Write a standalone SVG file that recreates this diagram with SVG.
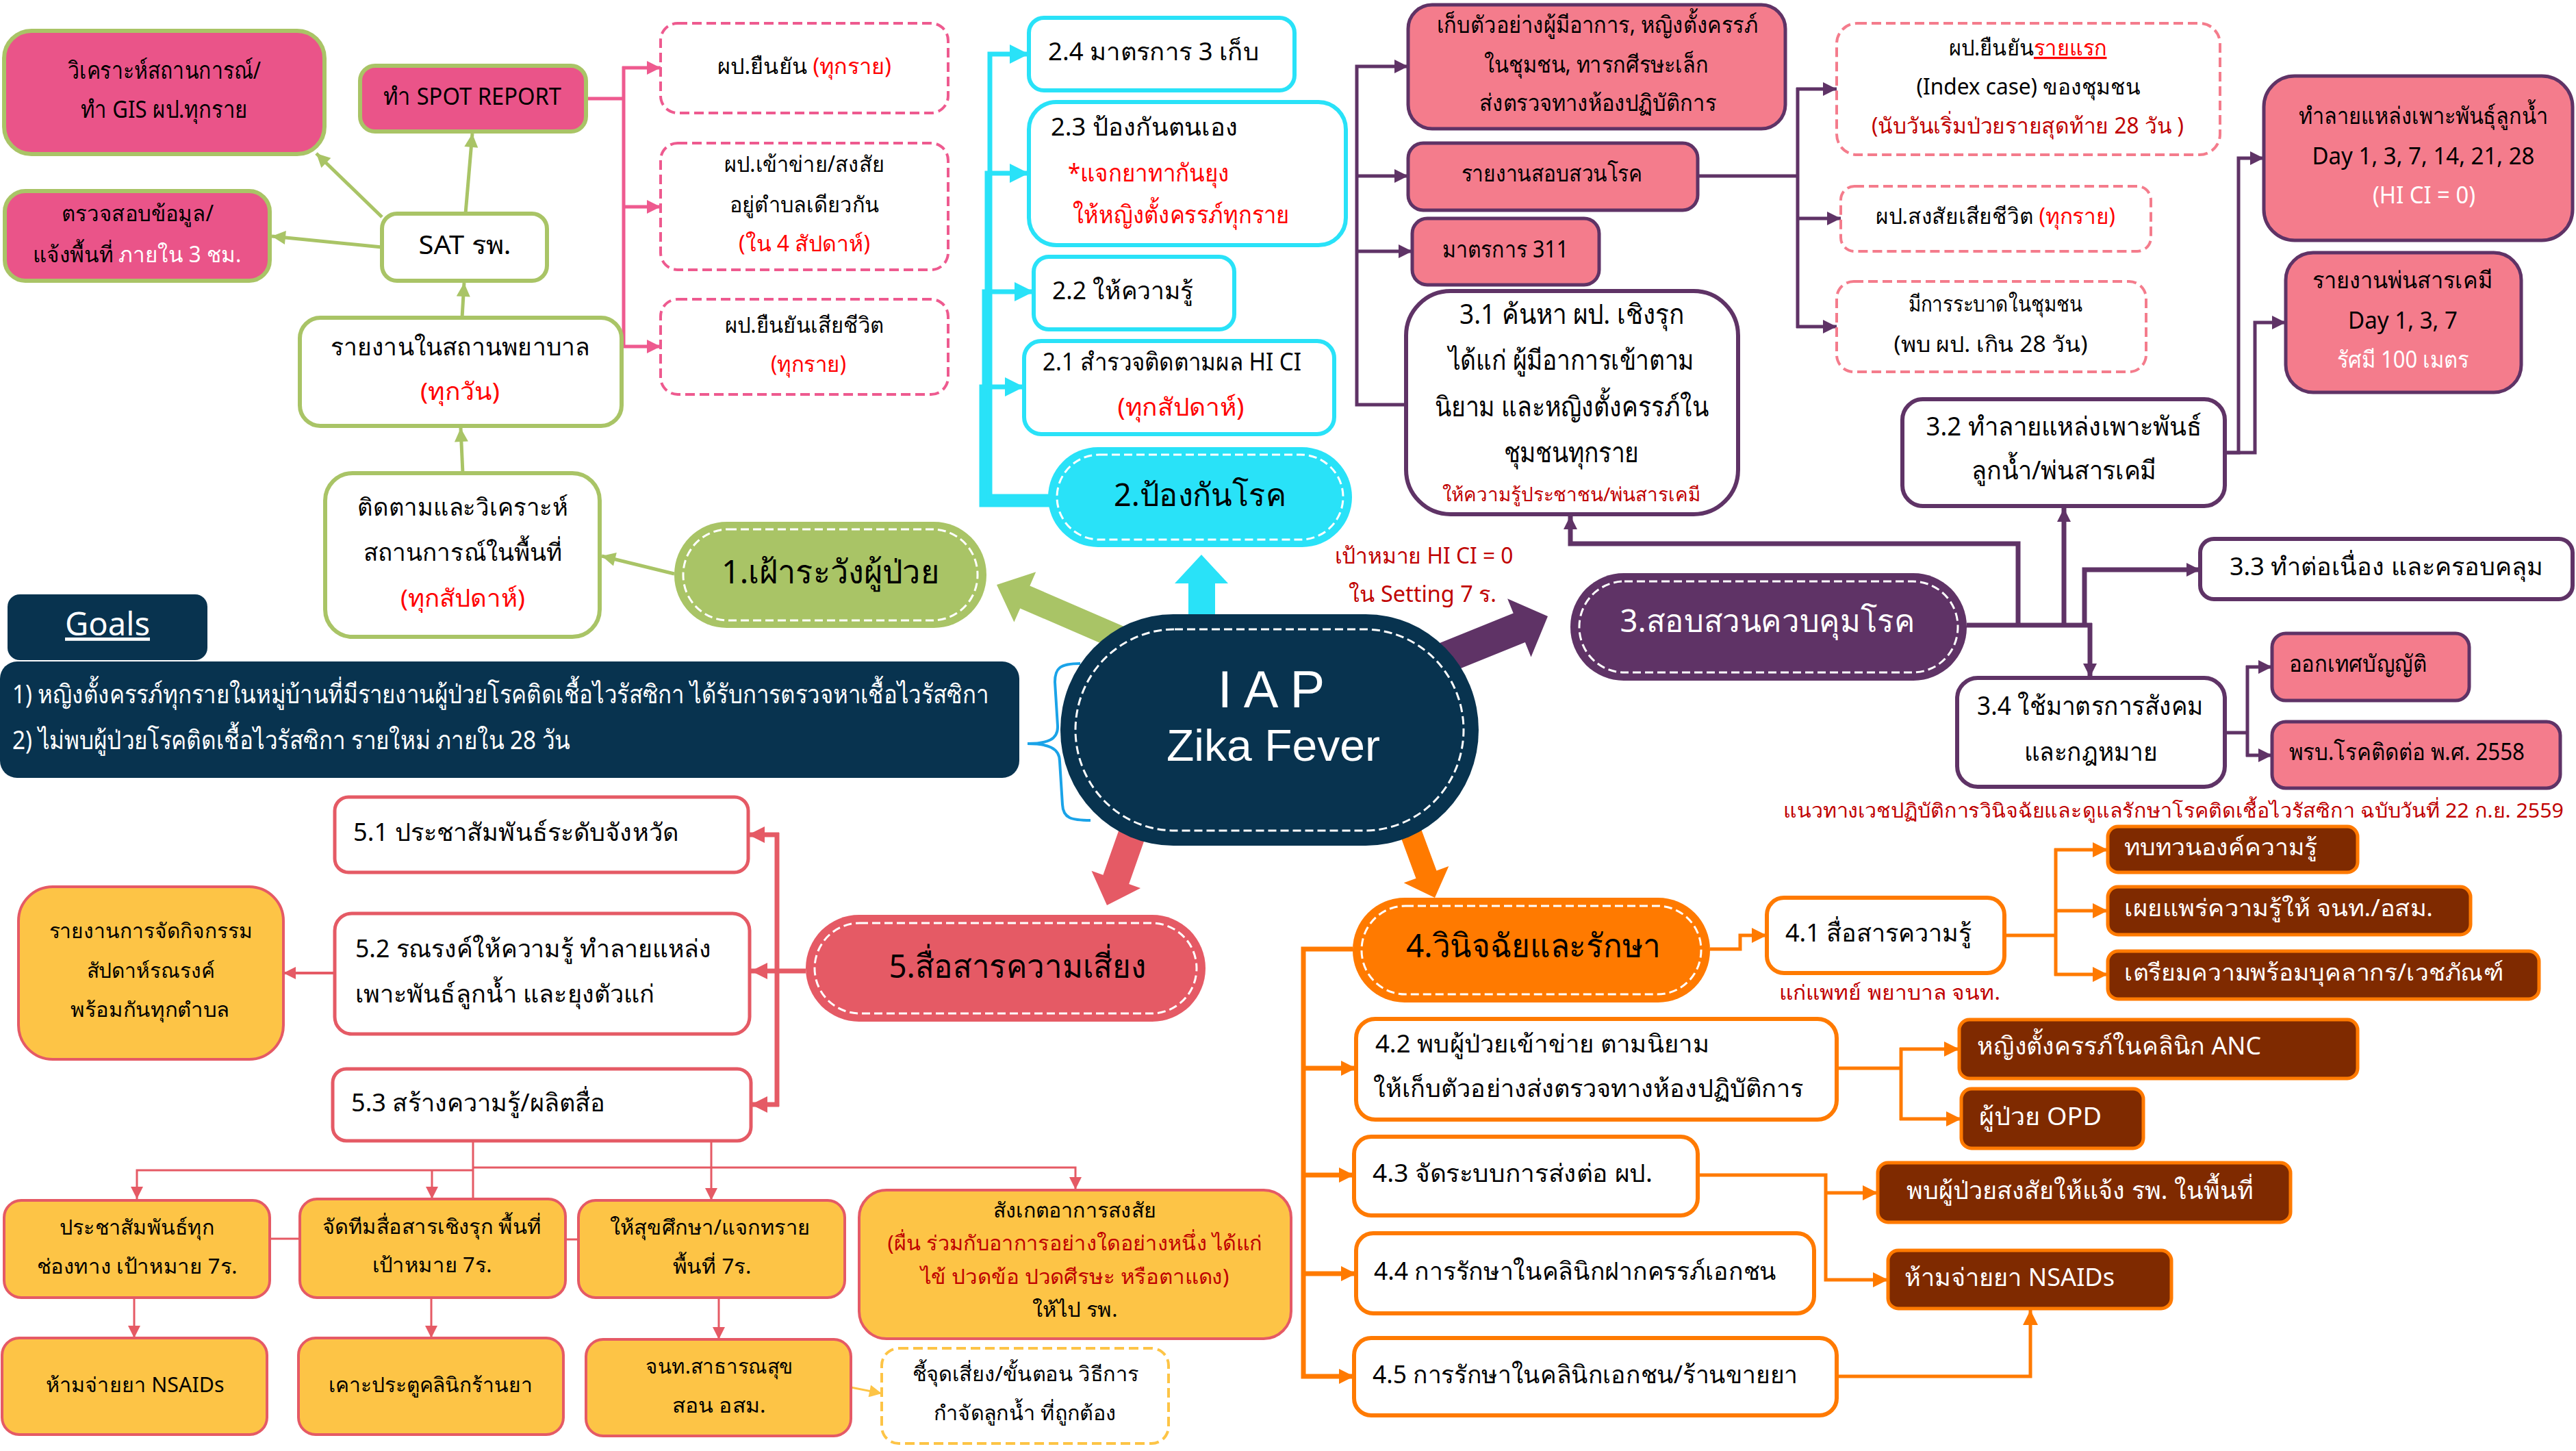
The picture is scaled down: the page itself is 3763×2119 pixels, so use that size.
<svg xmlns="http://www.w3.org/2000/svg" width="3763" height="2119" viewBox="0 0 3763 2119">
<style>
text{font-family:'Noto Sans','DejaVu Sans',sans-serif;font-size:35px;fill:#000}
.c{text-anchor:middle}
.r{fill:#FF0000}
.dr{fill:#C00000}
.w{fill:#FFFFFF}
.gbox{stroke:#A9C466;stroke-width:6}
.pk{fill:#EA5489}
.wh{fill:#FFFFFF}
.dpk{fill:#FFFFFF;stroke:#EE5A8F;stroke-width:4;stroke-dasharray:14 7}
.cy{fill:#FFFFFF;stroke:#29E2F8;stroke-width:6}
.sal{fill:#F47C8C;stroke:#5F3366;stroke-width:5}
.pw{fill:#FFFFFF;stroke:#5F3366;stroke-width:6}
.dsal{fill:#FFFFFF;stroke:#F47C8C;stroke-width:4;stroke-dasharray:14 7}
.ow{fill:#FFFFFF;stroke:#FF7A00;stroke-width:6}
.br{fill:#7F2A00;stroke:#FF7A00;stroke-width:5}
.rw{fill:#FFFFFF;stroke:#E55A65;stroke-width:5}
.yl{fill:#FDC446;stroke:#E55A65;stroke-width:4}
.inner{fill:none;stroke:#FFFFFF;stroke-width:3;stroke-dasharray:12 6}
.cn{fill:none}
.lg{stroke:#A9C466;stroke-width:5}
.lp{stroke:#EE5A8F;stroke-width:5}
.lc{stroke:#29E2F8;stroke-width:7}
.lu{stroke:#5F3366;stroke-width:5}
.lu2{stroke:#5F3366;stroke-width:7}
.lo{stroke:#FF7A00;stroke-width:5}
.lo2{stroke:#FF7A00;stroke-width:7}
.lr{stroke:#E55A65;stroke-width:7}
.lr1{stroke:#E55A65;stroke-width:4}
.lr0{stroke:#E55A65;stroke-width:3}
.ly{stroke:#FDC446;stroke-width:3}
</style>
<defs>
<marker id="ag" viewBox="0 0 10 10" refX="10" refY="5" markerWidth="22" markerHeight="20" markerUnits="userSpaceOnUse" orient="auto"><path d="M0,0L10,5L0,10z" fill="#A9C466"/></marker>
<marker id="ap" viewBox="0 0 10 10" refX="10" refY="5" markerWidth="22" markerHeight="20" markerUnits="userSpaceOnUse" orient="auto"><path d="M0,0L10,5L0,10z" fill="#EE5A8F"/></marker>
<marker id="ac" viewBox="0 0 10 10" refX="10" refY="5" markerWidth="28" markerHeight="28" markerUnits="userSpaceOnUse" orient="auto"><path d="M0,0L10,5L0,10z" fill="#29E2F8"/></marker>
<marker id="au" viewBox="0 0 10 10" refX="10" refY="5" markerWidth="22" markerHeight="20" markerUnits="userSpaceOnUse" orient="auto"><path d="M0,0L10,5L0,10z" fill="#5F3366"/></marker>
<marker id="ao" viewBox="0 0 10 10" refX="10" refY="5" markerWidth="24" markerHeight="22" markerUnits="userSpaceOnUse" orient="auto"><path d="M0,0L10,5L0,10z" fill="#FF7A00"/></marker>
<marker id="ar" viewBox="0 0 10 10" refX="10" refY="5" markerWidth="26" markerHeight="24" markerUnits="userSpaceOnUse" orient="auto"><path d="M0,0L10,5L0,10z" fill="#E55A65"/></marker>
<marker id="ars" viewBox="0 0 10 10" refX="10" refY="5" markerWidth="20" markerHeight="18" markerUnits="userSpaceOnUse" orient="auto"><path d="M0,0L10,5L0,10z" fill="#E55A65"/></marker>
<marker id="ay" viewBox="0 0 10 10" refX="10" refY="5" markerWidth="20" markerHeight="18" markerUnits="userSpaceOnUse" orient="auto"><path d="M0,0L10,5L0,10z" fill="#FDC446"/></marker>
</defs>
<rect width="3763" height="2119" fill="#FFFFFF"/>

<g id="connectors" class="cn">
<line class="lg" x1="675" y1="464" x2="678" y2="413" marker-end="url(#ag)"/>
<line class="lg" x1="680" y1="312" x2="690" y2="195" marker-end="url(#ag)"/>
<line class="lg" x1="558" y1="317" x2="462" y2="224" marker-end="url(#ag)"/>
<line class="lg" x1="558" y1="361" x2="397" y2="345" marker-end="url(#ag)"/>
<line class="lg" x1="676" y1="691" x2="673" y2="625" marker-end="url(#ag)"/>
<line class="lg" x1="985" y1="838" x2="879" y2="812" marker-end="url(#ag)"/>
<polyline class="lp" points="856,144 911,144"/>
<line class="lp" x1="911" y1="97" x2="911" y2="506"/>
<line class="lp" x1="909" y1="99" x2="965" y2="99" marker-end="url(#ap)"/>
<line class="lp" x1="911" y1="302" x2="965" y2="302" marker-end="url(#ap)"/>
<line class="lp" x1="909" y1="506" x2="965" y2="506" marker-end="url(#ap)"/>
<polyline class="lc" points="1533,725 1446,725 1446,79 1503,79" marker-end="url(#ac)"/>
<polyline class="lc" points="1533,729 1442,729 1442,253 1503,253" marker-end="url(#ac)"/>
<polyline class="lc" points="1533,733 1438,733 1438,426 1510,426" marker-end="url(#ac)"/>
<polyline class="lc" points="1533,737 1434,737 1434,565 1496,565" marker-end="url(#ac)"/>
<polyline class="lu" points="2054,591 1982,591 1982,97 2057,97" marker-end="url(#au)"/>
<line class="lu" x1="1982" y1="257" x2="2057" y2="257" marker-end="url(#au)"/>
<line class="lu" x1="1982" y1="367" x2="2063" y2="367" marker-end="url(#au)"/>
<polyline class="lu" points="2480,257 2626,257"/>
<line class="lu" x1="2626" y1="128" x2="2626" y2="479"/>
<line class="lu" x1="2624" y1="130" x2="2683" y2="130" marker-end="url(#au)"/>
<line class="lu" x1="2626" y1="319" x2="2689" y2="319" marker-end="url(#au)"/>
<line class="lu" x1="2624" y1="477" x2="2683" y2="477" marker-end="url(#au)"/>
<polyline class="lu" points="3250,661 3270,661 3270,231 3307,231" marker-end="url(#au)"/>
<polyline class="lu" points="3250,661 3294,661 3294,471 3339,471" marker-end="url(#au)"/>
<polyline class="lu2" points="2873,913 3056,913"/>
<polyline class="lu2" points="2948,913 2948,794 2294,794 2294,753" marker-end="url(#au)"/>
<line class="lu2" x1="3015" y1="913" x2="3015" y2="742" marker-end="url(#au)"/>
<polyline class="lu2" points="3045,913 3045,832 3214,832" marker-end="url(#au)"/>
<line class="lu2" x1="3053" y1="910" x2="3053" y2="989" marker-end="url(#au)"/>
<polyline class="lu" points="3250,1070 3283,1070"/>
<line class="lu" x1="3283" y1="972" x2="3283" y2="1105"/>
<line class="lu" x1="3281" y1="974" x2="3319" y2="974" marker-end="url(#au)"/>
<line class="lu" x1="3281" y1="1103" x2="3319" y2="1103" marker-end="url(#au)"/>
<polyline class="lo" points="2498,1386 2542,1386 2542,1366 2581,1366" marker-end="url(#ao)"/>
<polyline class="lo" points="2928,1366 3003,1366"/>
<line class="lo" x1="3003" y1="1239" x2="3003" y2="1425"/>
<line class="lo" x1="3001" y1="1241" x2="3079" y2="1241" marker-end="url(#ao)"/>
<line class="lo" x1="3003" y1="1330" x2="3079" y2="1330" marker-end="url(#ao)"/>
<line class="lo" x1="3001" y1="1423" x2="3079" y2="1423" marker-end="url(#ao)"/>
<polyline class="lo2" points="1976,1386 1904,1386 1904,2010 1978,2010" marker-end="url(#ao)"/>
<line class="lo2" x1="1904" y1="1560" x2="1981" y2="1560" marker-end="url(#ao)"/>
<line class="lo2" x1="1904" y1="1716" x2="1978" y2="1716" marker-end="url(#ao)"/>
<line class="lo2" x1="1904" y1="1860" x2="1981" y2="1860" marker-end="url(#ao)"/>
<polyline class="lo" points="2683,1560 2777,1560"/>
<line class="lo" x1="2777" y1="1530" x2="2777" y2="1636"/>
<line class="lo" x1="2775" y1="1532" x2="2862" y2="1532" marker-end="url(#ao)"/>
<line class="lo" x1="2775" y1="1634" x2="2865" y2="1634" marker-end="url(#ao)"/>
<polyline class="lo" points="2480,1716 2667,1716 2667,1869 2758,1869" marker-end="url(#ao)"/>
<line class="lo" x1="2667" y1="1742" x2="2743" y2="1742" marker-end="url(#ao)"/>
<polyline class="lo" points="2683,2010 2966,2010 2966,1913" marker-end="url(#ao)"/>
<line class="lr" x1="1177" y1="1418" x2="1097" y2="1418" marker-end="url(#ar)"/>
<line class="lr" x1="1135" y1="1216" x2="1135" y2="1616"/>
<line class="lr" x1="1138" y1="1219" x2="1093" y2="1219" marker-end="url(#ar)"/>
<line class="lr" x1="1138" y1="1613" x2="1097" y2="1613" marker-end="url(#ar)"/>
<line class="lr1" x1="489" y1="1421" x2="414" y2="1421" marker-end="url(#ars)"/>
<line class="lr0" x1="691" y1="1666" x2="691" y2="1751"/>
<polyline class="lr0" points="691,1709 200,1709 200,1751" marker-end="url(#ars)"/>
<line class="lr0" x1="631" y1="1709" x2="631" y2="1751" marker-end="url(#ars)"/>
<polyline class="lr0" points="691,1705 1571,1705 1571,1737" marker-end="url(#ars)"/>
<line class="lr0" x1="1039" y1="1666" x2="1039" y2="1753" marker-end="url(#ars)"/>
<line class="lr0" x1="394" y1="1809" x2="438" y2="1809"/>
<line class="lr0" x1="826" y1="1810" x2="845" y2="1810"/>
<line class="lr0" x1="196" y1="1895" x2="196" y2="1954" marker-end="url(#ars)"/>
<line class="lr0" x1="630" y1="1895" x2="630" y2="1954" marker-end="url(#ars)"/>
<line class="lr0" x1="1050" y1="1895" x2="1050" y2="1956" marker-end="url(#ars)"/>
<line class="ly" x1="1243" y1="2026" x2="1288" y2="2035" marker-end="url(#ay)"/>
<path d="M1578,969 C1548,969 1541,976 1541,996 L1545,1060 C1546,1080 1530,1086 1501,1086 C1530,1086 1548,1092 1548,1112 L1552,1175 C1553,1195 1565,1198 1593,1198" fill="none" stroke="#1AA3E8" stroke-width="4"/>
<polygon points="1657.1,921.5 1504.4,855.4 1513.2,835.2 1456,854 1481.4,908.6 1490.2,888.4 1642.9,954.5" fill="#A9C466"/>
<polygon points="1736,905 1736,852 1716,852 1755,810 1794,852 1775,852 1775,905" fill="#29E2F8"/>
<polygon points="2108.6,986.3 2227.9,938.1 2236.5,959.4 2261,900 2202.1,874.2 2210.7,895.5 2091.4,943.7" fill="#5F3366"/>
<polygon points="1641.1,1193.4 1611.4,1277.7 1594.5,1271.7 1617,1322 1666.1,1296.9 1649.2,1290.9 1678.9,1206.6" fill="#E55A65"/>
<polygon points="2040,1205.6 2068.5,1282.8 2050.7,1289.3 2096,1311 2116.3,1265.1 2098.5,1271.6 2070,1194.4" fill="#FF7A00"/>
</g>

<g id="center">
<rect x="1549" y="897" width="611" height="338" rx="165" ry="169" fill="#08334F"/>
<rect x="1571" y="919" width="567" height="294" rx="145" ry="147" class="inner"/>
<text x="1857" y="1033" class="c w" style="font-family:'Liberation Sans',sans-serif;font-size:76px">I A P</text>
<text x="1860" y="1111" class="c w" style="font-family:'Liberation Sans',sans-serif;font-size:64px" textLength="312" lengthAdjust="spacingAndGlyphs">Zika Fever</text>
</g>

<g id="n1">
<rect x="985" y="762" width="456" height="155" rx="77" fill="#A9C466"/>
<rect x="998" y="773" width="430" height="133" rx="66" class="inner"/>
<text x="1213" y="852" class="c" style="font-size:48px" textLength="318" lengthAdjust="spacingAndGlyphs">1.เฝ้าระวังผู้ป่วย</text>
</g>
<g id="n1_analysis"><rect x="6" y="45" width="468" height="180" rx="40" class="gbox pk"/>
<text x="240" y="115" class="c" textLength="282" lengthAdjust="spacingAndGlyphs">วิเคราะห์สถานการณ์/</text>
<text x="240" y="172" class="c" textLength="244" lengthAdjust="spacingAndGlyphs">ทำ GIS ผป.ทุกราย</text></g>
<g id="n1_spot"><rect x="526" y="96" width="330" height="96" rx="22" class="gbox pk"/>
<text x="690" y="153" class="c" textLength="260" lengthAdjust="spacingAndGlyphs">ทำ SPOT REPORT</text></g>
<g id="n1_check"><rect x="7" y="279" width="387" height="131" rx="30" class="gbox pk"/>
<text x="201" y="323" class="c" style="font-size:32px" textLength="222" lengthAdjust="spacingAndGlyphs">ตรวจสอบข้อมูล/</text>
<text x="200" y="383" class="c" style="font-size:32px" textLength="305" lengthAdjust="spacingAndGlyphs">แจ้งพื้นที่ <tspan class="w">ภายใน 3 ชม.</tspan></text></g>
<g id="n1_sat"><rect x="558" y="312" width="241" height="98" rx="22" class="gbox wh"/>
<text x="679" y="371" class="c" style="font-size:38px" textLength="135" lengthAdjust="spacingAndGlyphs">SAT รพ.</text></g>
<g id="n1_report"><rect x="438" y="464" width="470" height="158" rx="30" class="gbox wh"/>
<text x="672" y="519" class="c" textLength="379" lengthAdjust="spacingAndGlyphs">รายงานในสถานพยาบาล</text>
<text x="672" y="584" class="c r" textLength="116" lengthAdjust="spacingAndGlyphs">(ทุกวัน)</text></g>
<g id="n1_monitor"><rect x="475" y="691" width="401" height="239" rx="40" class="gbox wh"/>
<text x="676" y="753" class="c" textLength="308" lengthAdjust="spacingAndGlyphs">ติดตามและวิเคราะห์</text>
<text x="676" y="819" class="c" textLength="290" lengthAdjust="spacingAndGlyphs">สถานการณ์ในพื้นที่</text>
<text x="676" y="886" class="c r" textLength="182" lengthAdjust="spacingAndGlyphs">(ทุกสัปดาห์)</text></g>
<g id="n1_confirm"><rect x="965" y="34" width="420" height="131" rx="25" class="dpk"/>
<text x="1175" y="108" class="c" style="font-size:32px" textLength="254" lengthAdjust="spacingAndGlyphs">ผป.ยืนยัน <tspan class="r">(ทุกราย)</tspan></text></g>
<g id="n1_suspect"><rect x="965" y="209" width="420" height="185" rx="25" class="dpk"/>
<text x="1175" y="251" class="c" style="font-size:32px" textLength="234" lengthAdjust="spacingAndGlyphs">ผป.เข้าข่าย/สงสัย</text>
<text x="1175" y="310" class="c" style="font-size:32px" textLength="218" lengthAdjust="spacingAndGlyphs">อยู่ตำบลเดียวกัน</text>
<text x="1175" y="367" class="c r" style="font-size:32px" textLength="192" lengthAdjust="spacingAndGlyphs">(ใน 4 สัปดาห์)</text></g>
<g id="n1_death"><rect x="965" y="437" width="420" height="139" rx="25" class="dpk"/>
<text x="1175" y="486" class="c" style="font-size:32px" textLength="233" lengthAdjust="spacingAndGlyphs">ผป.ยืนยันเสียชีวิต</text>
<text x="1181" y="543" class="c r" style="font-size:32px" textLength="110" lengthAdjust="spacingAndGlyphs">(ทุกราย)</text></g>

<g id="n2">
<rect x="1531" y="653" width="444" height="146" rx="73" fill="#29E2F8"/>
<rect x="1544" y="664" width="418" height="124" rx="62" class="inner"/>
<text x="1753" y="739" class="c" style="font-size:46px" textLength="252" lengthAdjust="spacingAndGlyphs">2.ป้องกันโรค</text>
</g>
<g id="n2_4"><rect x="1503" y="26" width="388" height="106" rx="22" class="cy"/>
<text x="1531" y="88" style="font-size:36px" textLength="308" lengthAdjust="spacingAndGlyphs">2.4 มาตรการ 3 เก็บ</text></g>
<g id="n2_3"><rect x="1503" y="149" width="463" height="209" rx="40" class="cy"/>
<text x="1535" y="198" style="font-size:36px" textLength="273" lengthAdjust="spacingAndGlyphs">2.3 ป้องกันตนเอง</text>
<text x="1560" y="265" class="r" style="font-size:36px" textLength="236" lengthAdjust="spacingAndGlyphs">*แจกยาทากันยุง</text>
<text x="1567" y="326" class="r" style="font-size:36px" textLength="316" lengthAdjust="spacingAndGlyphs">ให้หญิงตั้งครรภ์ทุกราย</text></g>
<g id="n2_2"><rect x="1510" y="375" width="293" height="106" rx="22" class="cy"/>
<text x="1537" y="437" style="font-size:36px" textLength="206" lengthAdjust="spacingAndGlyphs">2.2 ให้ความรู้</text></g>
<g id="n2_1"><rect x="1496" y="498" width="453" height="136" rx="25" class="cy"/>
<text x="1523" y="541" style="font-size:36px" textLength="378" lengthAdjust="spacingAndGlyphs">2.1 สำรวจติดตามผล HI CI</text>
<text x="1725" y="607" class="c r" style="font-size:36px" textLength="185" lengthAdjust="spacingAndGlyphs">(ทุกสัปดาห์)</text></g>

<g id="n3">
<rect x="2294" y="837" width="579" height="157" rx="78" fill="#5F3366"/>
<rect x="2307" y="849" width="553" height="133" rx="66" class="inner"/>
<text x="2582" y="923" class="c w" style="font-size:46px" textLength="431" lengthAdjust="spacingAndGlyphs">3.สอบสวนควบคุมโรค</text>
</g>
<g id="n3_1"><rect x="2054" y="425" width="485" height="326" rx="65" class="pw"/>
<text x="2296" y="473" class="c" style="font-size:40px" textLength="328" lengthAdjust="spacingAndGlyphs">3.1 ค้นหา ผป. เชิงรุก</text>
<text x="2295" y="540" class="c" style="font-size:40px" textLength="359" lengthAdjust="spacingAndGlyphs">ได้แก่ ผู้มีอาการเข้าตาม</text>
<text x="2296" y="608" class="c" style="font-size:40px" textLength="400" lengthAdjust="spacingAndGlyphs">นิยาม และหญิงตั้งครรภ์ใน</text>
<text x="2295" y="675" class="c" style="font-size:40px" textLength="197" lengthAdjust="spacingAndGlyphs">ชุมชนทุกราย</text>
<text x="2295" y="732" class="c dr" style="font-size:28px" textLength="377" lengthAdjust="spacingAndGlyphs">ให้ความรู้ประชาชน/พ่นสารเคมี</text></g>
<g id="n3_collect"><rect x="2057" y="7" width="551" height="181" rx="35" class="sal"/>
<text x="2333" y="48" class="c" style="font-size:34px" textLength="469" lengthAdjust="spacingAndGlyphs">เก็บตัวอย่างผู้มีอาการ, หญิงตั้งครรภ์</text>
<text x="2332" y="106" class="c" style="font-size:34px" textLength="328" lengthAdjust="spacingAndGlyphs">ในชุมชน, ทารกศีรษะเล็ก</text>
<text x="2334" y="162" class="c" style="font-size:34px" textLength="346" lengthAdjust="spacingAndGlyphs">ส่งตรวจทางห้องปฏิบัติการ</text></g>
<g id="n3_invest"><rect x="2057" y="209" width="423" height="98" rx="22" class="sal"/>
<text x="2267" y="265" class="c" style="font-size:34px" textLength="265" lengthAdjust="spacingAndGlyphs">รายงานสอบสวนโรค</text></g>
<g id="n3_311"><rect x="2063" y="319" width="273" height="97" rx="22" class="sal"/>
<text x="2199" y="376" class="c" style="font-size:34px" textLength="184" lengthAdjust="spacingAndGlyphs">มาตรการ 311</text></g>
<g id="n3_index"><rect x="2683" y="34" width="560" height="192" rx="30" class="dsal"/>
<text x="2962" y="81" class="c" style="font-size:32px" textLength="231" lengthAdjust="spacingAndGlyphs">ผป.ยืนยัน<tspan class="r" text-decoration="underline">รายแรก</tspan></text>
<text x="2963" y="138" class="c" style="font-size:32px" textLength="327" lengthAdjust="spacingAndGlyphs">(Index case) ของชุมชน</text>
<text x="2962" y="195" class="c dr" style="font-size:32px" textLength="456" lengthAdjust="spacingAndGlyphs">(นับวันเริ่มป่วยรายสุดท้าย 28 วัน )</text></g>
<g id="n3_sdeath"><rect x="2689" y="272" width="453" height="95" rx="20" class="dsal"/>
<text x="2915" y="327" class="c" style="font-size:32px" textLength="350" lengthAdjust="spacingAndGlyphs">ผป.สงสัยเสียชีวิต <tspan class="r">(ทุกราย)</tspan></text></g>
<g id="n3_outbreak"><rect x="2683" y="411" width="452" height="132" rx="25" class="dsal"/>
<text x="2915" y="455" class="c" style="font-size:32px" textLength="255" lengthAdjust="spacingAndGlyphs">มีการระบาดในชุมชน</text>
<text x="2908" y="514" class="c" style="font-size:32px" textLength="283" lengthAdjust="spacingAndGlyphs">(พบ ผป. เกิน 28 วัน)</text></g>
<g id="n3_2"><rect x="2779" y="583" width="471" height="156" rx="30" class="pw"/>
<text x="3015" y="636" class="c" style="font-size:38px" textLength="403" lengthAdjust="spacingAndGlyphs">3.2 ทำลายแหล่งเพาะพันธ์</text>
<text x="3015" y="700" class="c" style="font-size:38px" textLength="270" lengthAdjust="spacingAndGlyphs">ลูกน้ำ/พ่นสารเคมี</text></g>
<g id="n3_destroy"><rect x="3307" y="111" width="451" height="240" rx="45" class="sal"/>
<text x="3540" y="181" class="c" style="font-size:34px" textLength="364" lengthAdjust="spacingAndGlyphs">ทำลายแหล่งเพาะพันธุ์ลูกน้ำ</text>
<text x="3540" y="240" class="c" style="font-size:34px" textLength="325" lengthAdjust="spacingAndGlyphs">Day 1, 3, 7, 14, 21, 28</text>
<text x="3541" y="297" class="c w" style="font-size:34px" textLength="150" lengthAdjust="spacingAndGlyphs">(HI CI = 0)</text></g>
<g id="n3_spray"><rect x="3339" y="369" width="344" height="204" rx="40" class="sal"/>
<text x="3509" y="421" class="c" style="font-size:34px" textLength="263" lengthAdjust="spacingAndGlyphs">รายงานพ่นสารเคมี</text>
<text x="3510" y="480" class="c" style="font-size:34px" textLength="160" lengthAdjust="spacingAndGlyphs">Day 1, 3, 7</text>
<text x="3510" y="537" class="c w" style="font-size:34px" textLength="193" lengthAdjust="spacingAndGlyphs">รัศมี 100 เมตร</text></g>
<g id="n3_3"><rect x="3214" y="787" width="544" height="88" rx="20" class="pw"/>
<text x="3486" y="840" class="c" style="font-size:36px" textLength="458" lengthAdjust="spacingAndGlyphs">3.3 ทำต่อเนื่อง และครอบคลุม</text></g>
<g id="n3_4"><rect x="2859" y="990" width="391" height="159" rx="30" class="pw"/>
<text x="3053" y="1044" class="c" style="font-size:38px" textLength="330" lengthAdjust="spacingAndGlyphs">3.4 ใช้มาตรการสังคม</text>
<text x="3054" y="1111" class="c" style="font-size:38px" textLength="194" lengthAdjust="spacingAndGlyphs">และกฎหมาย</text></g>
<g id="n3_ordinance"><rect x="3319" y="925" width="288" height="98" rx="20" class="sal"/>
<text x="3344" y="981" style="font-size:34px" textLength="201" lengthAdjust="spacingAndGlyphs">ออกเทศบัญญัติ</text></g>
<g id="n3_act"><rect x="3319" y="1054" width="421" height="97" rx="20" class="sal"/>
<text x="3344" y="1110" style="font-size:34px" textLength="344" lengthAdjust="spacingAndGlyphs">พรบ.โรคติดต่อ พ.ศ. 2558</text></g>

<g id="labels">
<text x="2080" y="823" class="c dr" style="font-size:32px" textLength="261" lengthAdjust="spacingAndGlyphs">เป้าหมาย HI CI = 0</text>
<text x="2078" y="879" class="c dr" style="font-size:32px" textLength="216" lengthAdjust="spacingAndGlyphs">ใน Setting 7 ร.</text>
<text x="2605" y="1194" class="dr" style="font-size:29px" textLength="1140" lengthAdjust="spacingAndGlyphs">แนวทางเวชปฏิบัติการวินิจฉัยและดูแลรักษาโรคติดเชื้อไวรัสซิกา ฉบับวันที่ 22 ก.ย. 2559</text>
<text x="2599" y="1460" class="dr" style="font-size:30px" textLength="323" lengthAdjust="spacingAndGlyphs">แก่แพทย์ พยาบาล จนท.</text>
</g>

<g id="n4">
<rect x="1976" y="1311" width="522" height="153" rx="76" fill="#FF7A00"/>
<rect x="1989" y="1323" width="496" height="129" rx="64" class="inner"/>
<text x="2240" y="1398" class="c" style="font-size:48px" textLength="372" lengthAdjust="spacingAndGlyphs">4.วินิจฉัยและรักษา</text>
</g>
<g id="n4_1"><rect x="2581" y="1311" width="347" height="110" rx="25" class="ow"/>
<text x="2744" y="1375" class="c" style="font-size:36px" textLength="272" lengthAdjust="spacingAndGlyphs">4.1 สื่อสารความรู้</text></g>
<g id="n4_review"><rect x="3079" y="1207" width="365" height="67" rx="15" class="br"/>
<text x="3103" y="1249" class="w" style="font-size:34px" textLength="282" lengthAdjust="spacingAndGlyphs">ทบทวนองค์ความรู้</text></g>
<g id="n4_spread"><rect x="3079" y="1295" width="530" height="70" rx="15" class="br"/>
<text x="3103" y="1338" class="w" style="font-size:34px" textLength="451" lengthAdjust="spacingAndGlyphs">เผยแพร่ความรู้ให้ จนท./อสม.</text></g>
<g id="n4_prepare"><rect x="3079" y="1389" width="630" height="70" rx="15" class="br"/>
<text x="3103" y="1432" class="w" style="font-size:34px" textLength="554" lengthAdjust="spacingAndGlyphs">เตรียมความพร้อมบุคลากร/เวชภัณฑ์</text></g>
<g id="n4_2"><rect x="1981" y="1488" width="702" height="147" rx="28" class="ow"/>
<text x="2009" y="1537" style="font-size:36px" textLength="488" lengthAdjust="spacingAndGlyphs">4.2 พบผู้ป่วยเข้าข่าย ตามนิยาม</text>
<text x="2006" y="1602" style="font-size:36px" textLength="628" lengthAdjust="spacingAndGlyphs">ให้เก็บตัวอย่างส่งตรวจทางห้องปฏิบัติการ</text></g>
<g id="n4_3"><rect x="1978" y="1660" width="502" height="115" rx="25" class="ow"/>
<text x="2005" y="1726" style="font-size:36px" textLength="409" lengthAdjust="spacingAndGlyphs">4.3 จัดระบบการส่งต่อ ผป.</text></g>
<g id="n4_4"><rect x="1981" y="1801" width="669" height="117" rx="25" class="ow"/>
<text x="2007" y="1869" style="font-size:36px" textLength="588" lengthAdjust="spacingAndGlyphs">4.4 การรักษาในคลินิกฝากครรภ์เอกชน</text></g>
<g id="n4_5"><rect x="1978" y="1954" width="705" height="113" rx="25" class="ow"/>
<text x="2005" y="2020" style="font-size:36px" textLength="621" lengthAdjust="spacingAndGlyphs">4.5 การรักษาในคลินิกเอกชน/ร้านขายยา</text></g>
<g id="n4_anc"><rect x="2862" y="1489" width="582" height="86" rx="15" class="br"/>
<text x="2888" y="1540" class="w" style="font-size:36px" textLength="415" lengthAdjust="spacingAndGlyphs">หญิงตั้งครรภ์ในคลินิก ANC</text></g>
<g id="n4_opd"><rect x="2865" y="1590" width="266" height="87" rx="15" class="br"/>
<text x="2891" y="1643" class="w" style="font-size:36px" textLength="179" lengthAdjust="spacingAndGlyphs">ผู้ป่วย OPD</text></g>
<g id="n4_notify"><rect x="2743" y="1698" width="603" height="87" rx="15" class="br"/>
<text x="2785" y="1751" class="w" style="font-size:36px" textLength="507" lengthAdjust="spacingAndGlyphs">พบผู้ป่วยสงสัยให้แจ้ง รพ. ในพื้นที่</text></g>
<g id="n4_nsaid"><rect x="2758" y="1826" width="414" height="85" rx="15" class="br"/>
<text x="2782" y="1878" class="w" style="font-size:36px" textLength="307" lengthAdjust="spacingAndGlyphs">ห้ามจ่ายยา NSAIDs</text></g>

<g id="n5">
<rect x="1177" y="1336" width="584" height="156" rx="78" fill="#E55A65"/>
<rect x="1190" y="1348" width="558" height="132" rx="66" class="inner"/>
<text x="1486" y="1428" class="c" style="font-size:48px" textLength="375" lengthAdjust="spacingAndGlyphs">5.สื่อสารความเสี่ยง</text>
</g>
<g id="n5_1"><rect x="489" y="1164" width="604" height="110" rx="20" class="rw"/>
<text x="516" y="1228" style="font-size:36px" textLength="475" lengthAdjust="spacingAndGlyphs">5.1 ประชาสัมพันธ์ระดับจังหวัด</text></g>
<g id="n5_2"><rect x="489" y="1334" width="606" height="176" rx="25" class="rw"/>
<text x="519" y="1398" style="font-size:36px" textLength="520" lengthAdjust="spacingAndGlyphs">5.2 รณรงค์ให้ความรู้ ทำลายแหล่ง</text>
<text x="519" y="1464" style="font-size:36px" textLength="437" lengthAdjust="spacingAndGlyphs">เพาะพันธ์ลูกน้ำ และยุงตัวแก่</text></g>
<g id="n5_3"><rect x="486" y="1561" width="611" height="105" rx="20" class="rw"/>
<text x="513" y="1623" style="font-size:36px" textLength="371" lengthAdjust="spacingAndGlyphs">5.3 สร้างความรู้/ผลิตสื่อ</text></g>
<g id="n5_weekly"><rect x="27" y="1295" width="387" height="252" rx="50" class="yl"/>
<text x="220" y="1370" class="c" style="font-size:30px" textLength="297" lengthAdjust="spacingAndGlyphs">รายงานการจัดกิจกรรม</text>
<text x="220" y="1428" class="c" style="font-size:30px" textLength="187" lengthAdjust="spacingAndGlyphs">สัปดาห์รณรงค์</text>
<text x="219" y="1485" class="c" style="font-size:30px" textLength="232" lengthAdjust="spacingAndGlyphs">พร้อมกันทุกตำบล</text></g>
<g id="n5_pr"><rect x="6" y="1753" width="388" height="142" rx="25" class="yl"/>
<text x="200" y="1803" class="c" style="font-size:30px" textLength="226" lengthAdjust="spacingAndGlyphs">ประชาสัมพันธ์ทุก</text>
<text x="200" y="1860" class="c" style="font-size:30px" textLength="293" lengthAdjust="spacingAndGlyphs">ช่องทาง เป้าหมาย 7ร.</text></g>
<g id="n5_team"><rect x="438" y="1751" width="388" height="144" rx="25" class="yl"/>
<text x="631" y="1802" class="c" style="font-size:30px" textLength="320" lengthAdjust="spacingAndGlyphs">จัดทีมสื่อสารเชิงรุก พื้นที่</text>
<text x="631" y="1858" class="c" style="font-size:30px" textLength="175" lengthAdjust="spacingAndGlyphs">เป้าหมาย 7ร.</text></g>
<g id="n5_edu"><rect x="845" y="1753" width="389" height="142" rx="25" class="yl"/>
<text x="1037" y="1803" class="c" style="font-size:30px" textLength="293" lengthAdjust="spacingAndGlyphs">ให้สุขศึกษา/แจกทราย</text>
<text x="1040" y="1860" class="c" style="font-size:30px" textLength="115" lengthAdjust="spacingAndGlyphs">พื้นที่ 7ร.</text></g>
<g id="n5_observe"><rect x="1255" y="1738" width="631" height="217" rx="40" class="yl"/>
<text x="1570" y="1778" class="c" style="font-size:30px" textLength="238" lengthAdjust="spacingAndGlyphs">สังเกตอาการสงสัย</text>
<text x="1570" y="1826" class="c dr" style="font-size:30px" textLength="547" lengthAdjust="spacingAndGlyphs">(ผื่น ร่วมกับอาการอย่างใดอย่างหนึ่ง ได้แก่</text>
<text x="1570" y="1875" class="c dr" style="font-size:30px" textLength="451" lengthAdjust="spacingAndGlyphs">ไข้ ปวดข้อ ปวดศีรษะ หรือตาแดง)</text>
<text x="1570" y="1923" class="c" style="font-size:30px" textLength="125" lengthAdjust="spacingAndGlyphs">ให้ไป รพ.</text></g>
<g id="n5_nsaid"><rect x="3" y="1954" width="387" height="141" rx="25" class="yl"/>
<text x="197" y="2033" class="c" style="font-size:30px" textLength="261" lengthAdjust="spacingAndGlyphs">ห้ามจ่ายยา NSAIDs</text></g>
<g id="n5_knock"><rect x="436" y="1954" width="387" height="141" rx="25" class="yl"/>
<text x="629" y="2033" class="c" style="font-size:30px" textLength="298" lengthAdjust="spacingAndGlyphs">เคาะประตูคลินิกร้านยา</text></g>
<g id="n5_staff"><rect x="856" y="1956" width="387" height="141" rx="25" class="yl"/>
<text x="1051" y="2006" class="c" style="font-size:30px" textLength="216" lengthAdjust="spacingAndGlyphs">จนท.สาธารณสุข</text>
<text x="1050" y="2063" class="c" style="font-size:30px" textLength="137" lengthAdjust="spacingAndGlyphs">สอน อสม.</text></g>
<g id="n5_point"><rect x="1288" y="1969" width="419" height="139" rx="25" fill="#FFFFFF" stroke="#FDC446" stroke-width="4" stroke-dasharray="14 7"/>
<text x="1498" y="2017" class="c" style="font-size:30px" textLength="331" lengthAdjust="spacingAndGlyphs">ชี้จุดเสี่ยง/ขั้นตอน วิธีการ</text>
<text x="1497" y="2074" class="c" style="font-size:30px" textLength="267" lengthAdjust="spacingAndGlyphs">กำจัดลูกน้ำ ที่ถูกต้อง</text></g>

<g id="goals">
<rect x="11" y="868" width="292" height="96" rx="18" fill="#08334F"/>
<text x="157" y="928" class="c w" style="font-size:48px" text-decoration="underline" textLength="124" lengthAdjust="spacingAndGlyphs">Goals</text>
<rect x="0" y="966" width="1489" height="170" rx="25" fill="#08334F"/>
<text x="18" y="1027" class="w" style="font-size:38px" textLength="1426" lengthAdjust="spacingAndGlyphs">1) หญิงตั้งครรภ์ทุกรายในหมู่บ้านที่มีรายงานผู้ป่วยโรคติดเชื้อไวรัสซิกา ได้รับการตรวจหาเชื้อไวรัสซิกา</text>
<text x="18" y="1094" class="w" style="font-size:38px" textLength="815" lengthAdjust="spacingAndGlyphs">2) ไม่พบผู้ป่วยโรคติดเชื้อไวรัสซิกา รายใหม่ ภายใน 28 วัน</text>
</g>
</svg>
